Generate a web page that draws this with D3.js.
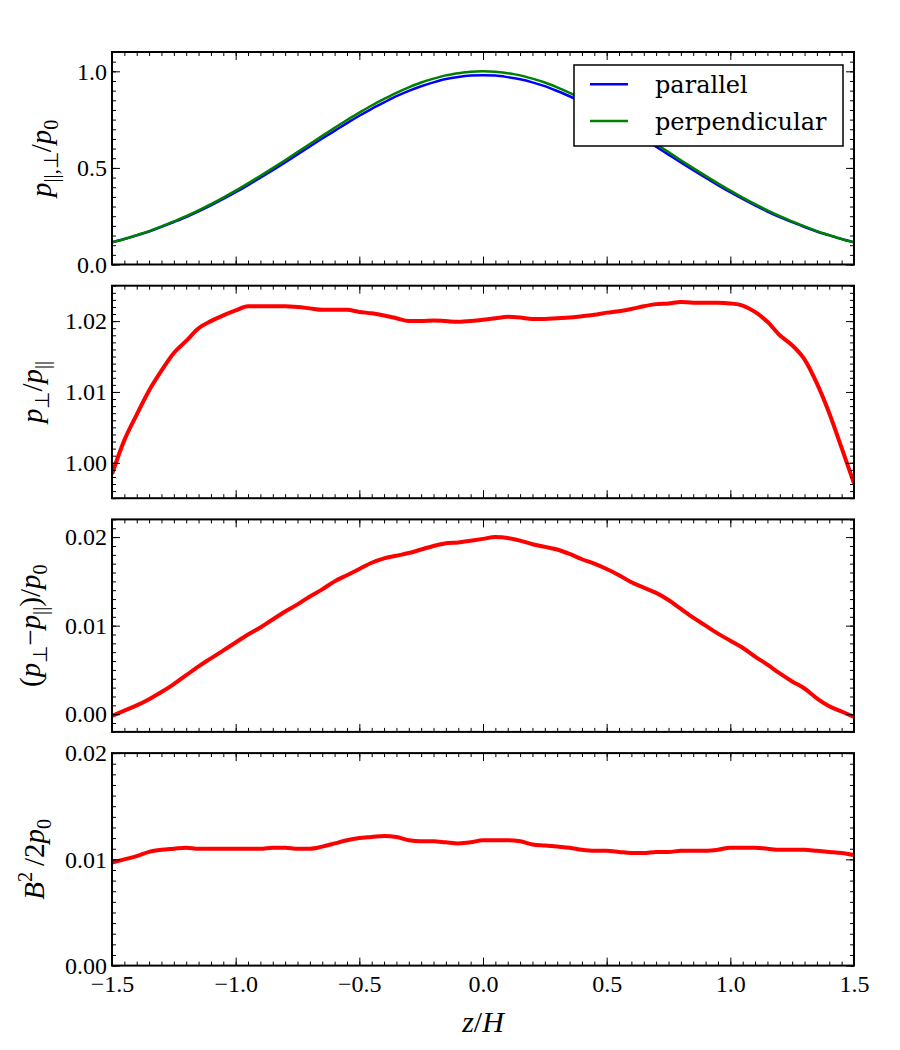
<!DOCTYPE html>
<html>
<head>
<meta charset="utf-8">
<script src="https://cdn.jsdelivr.net/npm/d3@7"></script>
<style>
  body { margin: 0; background: #fff; }
  .tick text { font-family: "Liberation Serif", serif; font-size: 24px; fill: #000; }
  .tick line { stroke: #000; stroke-width: 1; }
</style>
</head>
<body>
<div id="chart"></div>
<script>
(function () {

// z/H sample positions
var zVals = [-1.50,-1.45,-1.40,-1.35,-1.30,-1.25,-1.20,-1.15,-1.10,-1.05,
             -1.00,-0.95,-0.90,-0.85,-0.80,-0.75,-0.70,-0.65,-0.60,-0.55,
             -0.50,-0.45,-0.40,-0.35,-0.30,-0.25,-0.20,-0.15,-0.10,-0.05,
              0.00, 0.05, 0.10, 0.15, 0.20, 0.25, 0.30, 0.35, 0.40, 0.45,
              0.50, 0.55, 0.60, 0.65, 0.70, 0.75, 0.80, 0.85, 0.90, 0.95,
              1.00, 1.05, 1.10, 1.15, 1.20, 1.25, 1.30, 1.35, 1.40, 1.45, 1.50];

// panel 1
var pPerp = [0.115,0.132,0.152,0.173,0.197,0.223,0.250,0.280,0.312,0.346,
             0.382,0.420,0.459,0.499,0.540,0.582,0.624,0.666,0.707,0.748,
             0.786,0.823,0.857,0.889,0.917,0.942,0.962,0.979,0.990,0.998,
             1.000,0.998,0.990,0.979,0.962,0.942,0.917,0.889,0.857,0.823,
             0.786,0.748,0.707,0.666,0.624,0.582,0.540,0.499,0.459,0.420,
             0.382,0.346,0.312,0.280,0.250,0.223,0.197,0.173,0.152,0.132,0.115];
var pPar = [0.115,0.132,0.151,0.171,0.195,0.220,0.246,0.275,0.306,0.339,
            0.374,0.411,0.449,0.488,0.528,0.570,0.611,0.652,0.692,0.732,
            0.770,0.806,0.839,0.871,0.899,0.923,0.943,0.960,0.971,0.978,
            0.980,0.978,0.970,0.959,0.943,0.923,0.898,0.871,0.840,0.806,
            0.770,0.732,0.692,0.652,0.610,0.569,0.528,0.488,0.449,0.411,
            0.374,0.339,0.306,0.274,0.245,0.219,0.194,0.171,0.151,0.132,0.115];

// panel 2: p_perp / p_par
var ratio = [0.9984,1.0032,1.0068,1.0102,1.0130,1.0155,1.0172,1.0190,1.0200,1.0208,
             1.0215,1.0221,1.0221,1.0221,1.0221,1.0220,1.0218,1.0216,1.0216,1.0216,
             1.0213,1.0211,1.0208,1.0204,1.0200,1.0200,1.0201,1.0200,1.0199,1.0200,
             1.0202,1.0204,1.0206,1.0205,1.0203,1.0203,1.0204,1.0205,1.0207,1.0209,
             1.0212,1.0214,1.0217,1.0221,1.0224,1.0225,1.0227,1.0226,1.0226,1.0226,
             1.0225,1.0222,1.0213,1.0199,1.0180,1.0166,1.0146,1.0112,1.0070,1.0021,0.9971];

// panel 3: (p_perp - p_par) / p0
var diff = [-0.0002,0.0004,0.0010,0.0017,0.0025,0.0034,0.0044,0.0054,0.0063,0.0072,
            0.0081,0.0090,0.0098,0.0107,0.0116,0.0124,0.0133,0.0141,0.0150,0.0157,
            0.0164,0.0171,0.0176,0.0179,0.0182,0.0186,0.0190,0.0193,0.0194,0.0196,
            0.0198,0.0200,0.0199,0.0196,0.0192,0.0189,0.0186,0.0181,0.0175,0.0170,
            0.0164,0.0157,0.0149,0.0143,0.0137,0.0129,0.0119,0.0109,0.0100,0.0091,
            0.0083,0.0075,0.0065,0.0056,0.0046,0.0037,0.0029,0.0018,0.0009,0.0003,-0.0003];

// panel 4: B^2 / 2p0
var magB = [0.0097,0.0100,0.0103,0.0107,0.0109,0.0110,0.0111,0.0110,0.0110,0.0110,
            0.0110,0.0110,0.0110,0.0111,0.0111,0.0110,0.0110,0.0112,0.0115,0.0118,
            0.0120,0.0121,0.0122,0.0121,0.0118,0.0117,0.0117,0.0116,0.0115,0.0116,
            0.0118,0.0118,0.0118,0.0117,0.0114,0.0113,0.0112,0.0111,0.0109,0.0108,
            0.0108,0.0107,0.0106,0.0106,0.0107,0.0107,0.0108,0.0108,0.0108,0.0109,
            0.0111,0.0111,0.0111,0.0110,0.0109,0.0109,0.0109,0.0108,0.0107,0.0106,0.0104];

var xTicks = [-1.5, -1.0, -0.5, 0.0, 0.5, 1.0, 1.5];
var legendLabels = ["parallel", "perpendicular"];


var width = 900, height = 1050;
var left = 112, right = 854;
var panelTop = 52, panelH = 212.5, panelStep = 233.7;

var svg = d3.select('#chart').append('svg')
    .attr('width', width)
    .attr('height', height);

var xScale = d3.scaleLinear().domain([-1.5, 1.5]).range([left, right]);

// minor ticks every 1/10 of a major step
function minorTicks(lo, hi, step) {
    var out = [];
    var n = Math.round((hi - lo) / step);
    for (var i = 0; i <= n; i++) out.push(lo + i * step);
    return out;
}

var panels = [
    { domain: [0, 1.1], ticks: [0, 0.5, 1.0], fmt: '.1f', minor: 0.05,
      series: [{ v: pPar, color: '#0000ff', w: 2.5 }, { v: pPerp, color: '#008000', w: 2.5 }],
      label: [['p','i'],['||,\u22a5','sub'],['/','r'],['p','i'],['0','sub']], labelX: 51 },
    { domain: [0.995, 1.025], ticks: [1.00, 1.01, 1.02], fmt: '.2f', minor: 0.001,
      series: [{ v: ratio, color: '#ff0000', w: 4 }],
      label: [['p','i'],['\u22a5','sub'],['/','r'],['p','i'],['||','sub']], labelX: 42 },
    { domain: [-0.002, 0.022], ticks: [0.00, 0.01, 0.02], fmt: '.2f', minor: 0.001,
      series: [{ v: diff, color: '#ff0000', w: 4 }],
      label: [['(','r'],['p','i'],['\u22a5','sub'],['\u2212','r'],['p','i'],['||','sub'],[')/','r'],['p','i'],['0','sub']], labelX: 40 },
    { domain: [0, 0.02], ticks: [0.00, 0.01, 0.02], fmt: '.2f', minor: 0.001,
      series: [{ v: magB, color: '#ff0000', w: 4 }],
      label: [['B','i'],['2','sup'],['\u2009/2','r'],['p','i'],['0','sub']], labelX: 44 }
];

panels.forEach(function (p, idx) {
    var top = panelTop + idx * panelStep;
    var bottom = top + panelH;
    var yScale = d3.scaleLinear().domain(p.domain).range([bottom, top]);
    var g = svg.append('g');

    g.append('clipPath').attr('id', 'clip' + idx)
        .append('rect').attr('x', left).attr('y', top)
        .attr('width', right - left).attr('height', panelH);

    // data lines
    var lineGen = d3.line()
        .x(function (d, i) { return xScale(zVals[i]); })
        .y(function (d) { return yScale(d); })
        .curve(d3.curveMonotoneX);

    p.series.forEach(function (s) {
        g.append('path')
            .datum(s.v)
            .attr('d', lineGen)
            .attr('fill', 'none')
            .attr('stroke', s.color)
            .attr('stroke-width', s.w)
            .attr('stroke-linejoin', 'round')
            .attr('clip-path', 'url(#clip' + idx + ')');
    });

    var yMinor = minorTicks(p.domain[0], p.domain[1], p.minor);
    var xMinor = minorTicks(-1.5, 1.5, 0.05);

    // left
    g.append('g').attr('transform', 'translate(' + left + ',0)')
        .call(d3.axisLeft(yScale).tickValues(yMinor).tickSize(-4).tickFormat(''));
    g.append('g').attr('transform', 'translate(' + left + ',0)')
        .call(d3.axisLeft(yScale).tickValues(p.ticks).tickSizeInner(-8).tickSizeOuter(0)
            .tickPadding(5).tickFormat(d3.format(p.fmt)));
    // right
    g.append('g').attr('transform', 'translate(' + right + ',0)')
        .call(d3.axisRight(yScale).tickValues(yMinor).tickSize(-4).tickFormat(''));
    g.append('g').attr('transform', 'translate(' + right + ',0)')
        .call(d3.axisRight(yScale).tickValues(p.ticks).tickSize(-8).tickFormat(''));
    // top
    g.append('g').attr('transform', 'translate(0,' + top + ')')
        .call(d3.axisTop(xScale).tickValues(xMinor).tickSize(-4).tickFormat(''));
    g.append('g').attr('transform', 'translate(0,' + top + ')')
        .call(d3.axisTop(xScale).tickValues(xTicks).tickSize(-8).tickFormat(''));
    // bottom
    g.append('g').attr('transform', 'translate(0,' + bottom + ')')
        .call(d3.axisBottom(xScale).tickValues(xMinor).tickSize(-4).tickFormat(''));
    g.append('g').attr('transform', 'translate(0,' + bottom + ')')
        .call(d3.axisBottom(xScale).tickValues(xTicks).tickSizeInner(-8).tickSizeOuter(0)
            .tickPadding(9)
            .tickFormat(idx === panels.length - 1 ? d3.format('.1f') : ''));

    g.selectAll('.domain').remove();

    // frame
    g.append('rect')
        .attr('x', left).attr('y', top)
        .attr('width', right - left).attr('height', panelH)
        .attr('fill', 'none').attr('stroke', '#000').attr('stroke-width', 2);

    // y label (math-ish)
    var fs = 29;
    var cy = (top + bottom) / 2;
    var t = g.append('text')
        .attr('transform', 'translate(' + p.labelX + ',' + cy + ') rotate(-90)')
        .attr('text-anchor', 'middle')
        .style('font-family', '"Liberation Serif", serif')
        .style('font-size', fs + 'px');
    var shift = 0;
    p.label.forEach(function (part) {
        var ts = t.append('tspan').text(part[0]);
        var want = 0;
        if (part[1] === 'i') ts.style('font-style', 'italic');
        if (part[1] === 'sub') { want = 0.25 * fs; ts.style('font-size', (fs * 0.7) + 'px'); }
        if (part[1] === 'sup') { want = -0.42 * fs; ts.style('font-size', (fs * 0.7) + 'px'); }
        if (want !== shift) { ts.attr('dy', want - shift); shift = want; }
    });

    // legend in the first panel
    if (idx === 0) {
        var lg = g.append('g');
        lg.append('rect')
            .attr('x', 574).attr('y', 65).attr('width', 269).attr('height', 81)
            .attr('fill', '#fff').attr('stroke', '#000').attr('stroke-width', 1.5);
        p.series.forEach(function (s, i) {
            var ly = 84.3 + i * 36.7;
            lg.append('line')
                .attr('x1', 590).attr('x2', 628).attr('y1', ly).attr('y2', ly)
                .attr('stroke', s.color).attr('stroke-width', 2.5);
            lg.append('text')
                .attr('x', 655).attr('y', ly + 9)
                .style('font-family', '"DejaVu Serif", serif')
                .style('font-size', '24px')
                .text(legendLabels[i]);
        });
    }
});

// x label
var xl = svg.append('text')
    .attr('x', (left + right) / 2).attr('y', 1032)
    .attr('text-anchor', 'middle')
    .style('font-family', '"Liberation Serif", serif')
    .style('font-size', '30px');
xl.append('tspan').style('font-style', 'italic').text('z');
xl.append('tspan').text('/');
xl.append('tspan').style('font-style', 'italic').text('H');

})();
</script>
</body>
</html>
